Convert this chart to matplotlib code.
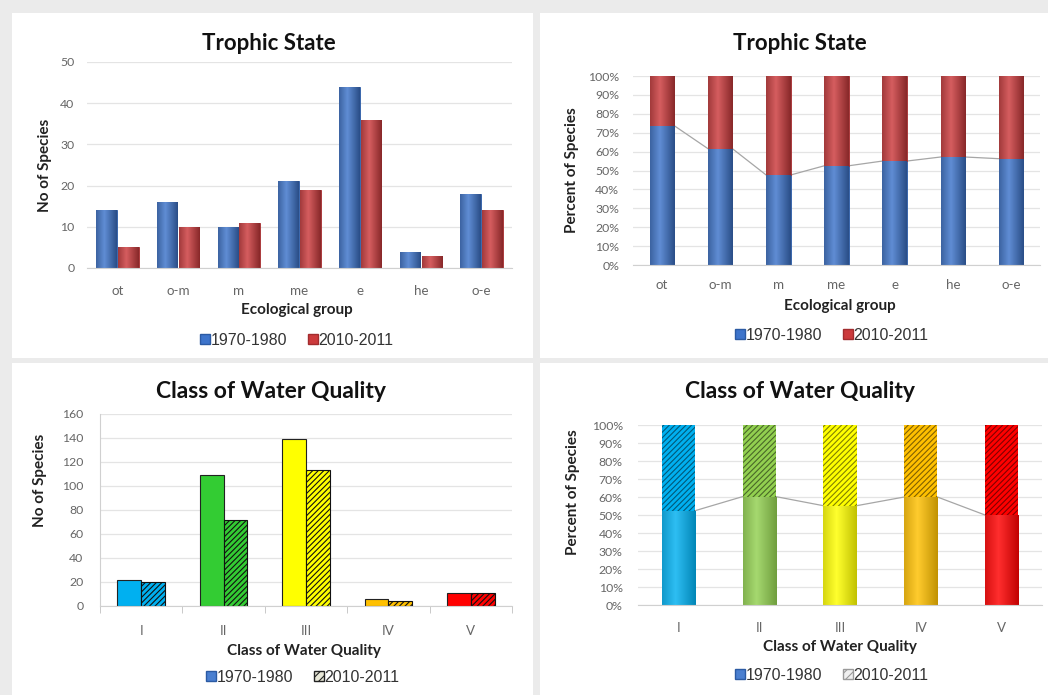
import numpy as np
import matplotlib.pyplot as plt
from matplotlib.patches import Rectangle, Patch
from matplotlib.ticker import PercentFormatter
from matplotlib.colors import to_rgb

# Species counts per ecological group (trophic state)
groups = ["ot", "o-m", "m", "me", "e", "he", "o-e"]
trophic_old = [14, 16, 10, 21, 44, 4, 18]
trophic_new = [5, 10, 11, 19, 36, 3, 14]

# Species counts per class of water quality
classes = ["I", "II", "III", "IV", "V"]
quality_old = [22, 109, 139, 6, 11]
quality_new = [20, 72, 113, 4, 11]

periods = ["1970-1980", "2010-2011"]

W, H = 1048, 695
plt.rcParams["hatch.linewidth"] = 0.8

fig = plt.figure(figsize=(W / 100, H / 100), dpi=100, facecolor="#ebebeb")

LABEL_FONT = "Lato"
LEGEND_FONT = "Liberation Sans"
TICK_COLOR = "#666666"
GRID_COLOR = "#e4e4e4"
HATCH = "//////"


def rect(x0, y0, x1, y1):
    return [x0 / W, 1 - y1 / H, (x1 - x0) / W, (y1 - y0) / H]


def fig_xy(x, y):
    return x / W, 1 - y / H


def panel(x0, y0, x1, y1):
    fig.patches.append(Rectangle((x0 / W, 1 - y1 / H), (x1 - x0) / W, (y1 - y0) / H,
                                 transform=fig.transFigure, facecolor="white",
                                 edgecolor="none", zorder=-5))


def shade(ax, bars, color, strength=0.35):
    # horizontal bevel: darker edges, lighter middle
    base = np.array(to_rgb(color))
    t = np.linspace(0, 1, 64)
    prof = np.clip(1 - np.abs(t - 0.4) * 1.6, 0, 1)
    img = np.empty((1, 64, 3))
    for i in range(64):
        k = prof[i]
        c = base * (1 - strength * (1 - k)) + (1 - base) * 0.18 * k
        img[0, i] = np.clip(c, 0, 1)
    for b in bars:
        x, y = b.get_x(), b.get_y()
        w, h = b.get_width(), b.get_height()
        if h <= 0:
            continue
        im = ax.imshow(img, extent=(x, x + w, y, y + h), aspect="auto",
                       interpolation="bilinear", zorder=b.get_zorder() + 0.1)
        im.set_clip_path(b)


def style_axes(ax, n, pad_x=12, pad_y=6):
    ax.set_xlim(-0.5, n - 0.5)
    for s in ["top", "right", "left"]:
        ax.spines[s].set_visible(False)
    ax.spines["bottom"].set_color("#d0d0d0")
    ax.grid(axis="y", color=GRID_COLOR, linewidth=0.9)
    ax.set_axisbelow(True)
    ax.tick_params(axis="both", length=0, labelsize=8.8, colors=TICK_COLOR)
    ax.tick_params(axis="x", pad=pad_x, labelsize=9.6)
    ax.tick_params(axis="y", pad=pad_y)
    for lab in ax.get_xticklabels() + ax.get_yticklabels():
        lab.set_fontfamily(LABEL_FONT)


def texts(title, tpos, xlabel, xpos, ylabel, ypos, tsize):
    fig.text(*fig_xy(*tpos), title, ha="center", va="center", fontsize=tsize,
             fontweight="bold", family=LABEL_FONT, color="#111111")
    fig.text(*fig_xy(*xpos), xlabel, ha="center", va="center", fontsize=11,
             fontweight="bold", family=LABEL_FONT, color="#222222")
    fig.text(*fig_xy(*ypos), ylabel, ha="center", va="center", fontsize=11,
             fontweight="bold", family=LABEL_FONT, color="#222222", rotation=90)


def legend(handles, pos):
    fig.legend(handles=handles, labels=periods, loc="center", bbox_to_anchor=fig_xy(*pos),
               ncol=2, frameon=False, handlelength=0.6, handleheight=0.6,
               handletextpad=0.05, columnspacing=1.3,
               prop={"family": LEGEND_FONT, "size": 11.5}, labelcolor="#333333")


def series_lines(ax, x, tops, width):
    for i in range(len(x) - 1):
        ax.plot([x[i] + width / 2, x[i + 1] - width / 2], [tops[i], tops[i + 1]],
                color="#a6a6a6", linewidth=0.9, zorder=1.5)


BLUE, RED = "#3d74cb", "#cc3a3c"
BLUE_EDGE, RED_EDGE = "#2b5aa3", "#a22c2e"

# white panels
panel(12, 13, 533, 358)
panel(540, 13, 1048, 358)
panel(12, 363, 533, 695)
panel(540, 363, 1048, 695)

# ---- Trophic state: counts ----
ax1 = fig.add_axes(rect(87, 62, 512, 268))
x = np.arange(len(groups))
w = 0.34
b1 = ax1.bar(x - 0.18, trophic_old, w, color=BLUE, edgecolor=BLUE_EDGE, linewidth=0.6, zorder=2)
b2 = ax1.bar(x + 0.18, trophic_new, w, color=RED, edgecolor=RED_EDGE, linewidth=0.6, zorder=2)
shade(ax1, b1, BLUE)
shade(ax1, b2, RED)
ax1.set_ylim(0, 50)
ax1.set_yticks(range(0, 51, 10))
ax1.set_xticks(x, groups)
style_axes(ax1, len(groups), pad_x=12, pad_y=9)
texts("Trophic State", (269, 43), "Ecological group", (297, 310),
      "No of Species", (45, 165), 16)
legend([Patch(facecolor=BLUE, edgecolor=BLUE_EDGE), Patch(facecolor=RED, edgecolor=RED_EDGE)],
       (297, 340))

# ---- Trophic state: percent ----
ax2 = fig.add_axes(rect(633, 76, 1040, 265))
tot = np.array(trophic_old) + np.array(trophic_new)
p_old = np.array(trophic_old) / tot * 100
p_new = np.array(trophic_new) / tot * 100
w = 0.42
b1 = ax2.bar(x, p_old, w, color=BLUE, edgecolor=BLUE_EDGE, linewidth=0.6, zorder=2)
b2 = ax2.bar(x, p_new, w, bottom=p_old, color=RED, edgecolor=RED_EDGE, linewidth=0.6, zorder=2)
shade(ax2, b1, BLUE)
shade(ax2, b2, RED)
series_lines(ax2, x, p_old, w)
ax2.set_ylim(0, 100)
ax2.set_yticks(range(0, 101, 10))
ax2.yaxis.set_major_formatter(PercentFormatter(decimals=0))
ax2.set_xticks(x, groups)
style_axes(ax2, len(groups), pad_x=10, pad_y=10)
texts("Trophic State", (800, 43), "Ecological group", (840, 306),
      "Percent of Species", (572, 170), 16)
legend([Patch(facecolor=BLUE, edgecolor=BLUE_EDGE), Patch(facecolor=RED, edgecolor=RED_EDGE)],
       (832, 335))

# ---- Water quality: counts ----
q_colors = ["#00b0f0", "#33cc33", "#ffff00", "#ffc000", "#ff0000"]
q_colors_light = ["#00b0f0", "#92d050", "#ffff00", "#ffc000", "#ff0000"]
ax3 = fig.add_axes(rect(100, 414, 512, 606))
xq = np.arange(len(classes))
w = 0.29
ax3.bar(xq - w / 2, quality_old, w, color=q_colors, edgecolor="#222222", linewidth=0.8, zorder=2)
ax3.bar(xq + w / 2, quality_new, w, color=q_colors, edgecolor="#111111", linewidth=0.8,
        hatch=HATCH, zorder=2)
ax3.set_ylim(0, 160)
ax3.set_yticks(range(0, 161, 20))
ax3.set_xticks(xq, classes)
style_axes(ax3, len(classes), pad_x=14, pad_y=12)
ax3.spines["left"].set_visible(True)
ax3.spines["left"].set_color("#d0d0d0")
ax3.set_xticks(np.arange(-0.5, len(classes), 1), minor=True)
ax3.tick_params(axis="x", which="minor", length=5, color="#c0c0c0")
texts("Class of Water Quality", (271, 392), "Class of Water Quality", (304, 651),
      "No of Species", (40, 480), 16.5)
legend([Patch(facecolor="#4a7fd0", edgecolor="#2b5aa3"),
        Patch(facecolor="#e8e8d8", edgecolor="#222222", hatch="////")], (303, 677))

# ---- Water quality: percent ----
ax4 = fig.add_axes(rect(638, 425, 1042, 605))
qt = np.array(quality_old) + np.array(quality_new)
q_old = np.array(quality_old) / qt * 100
q_new = np.array(quality_new) / qt * 100
w = 0.41
dark = [tuple(np.array(to_rgb(c)) * 0.5) for c in q_colors_light]
b1 = ax4.bar(xq, q_old, w, color=q_colors_light, edgecolor="none", zorder=2)
b2 = ax4.bar(xq, q_new, w, bottom=q_old, color=q_colors_light, edgecolor=dark,
             linewidth=0, hatch=HATCH, zorder=2)
for bar, c in zip(b1, q_colors_light):
    shade(ax4, [bar], c, strength=0.25)
series_lines(ax4, xq, q_old, w)
ax4.set_ylim(0, 100)
ax4.set_yticks(range(0, 101, 10))
ax4.yaxis.set_major_formatter(PercentFormatter(decimals=0))
ax4.set_xticks(xq, classes)
style_axes(ax4, len(classes), pad_x=12, pad_y=11)
texts("Class of Water Quality", (800, 392), "Class of Water Quality", (840, 647),
      "Percent of Species", (573, 492), 16.5)
legend([Patch(facecolor="#4a7fd0", edgecolor="#2b5aa3"),
        Patch(facecolor="#f0f0f0", edgecolor="#9a9a9a", hatch="////")], (832, 675))

fig.savefig("out.png", dpi=100, facecolor=fig.get_facecolor())
